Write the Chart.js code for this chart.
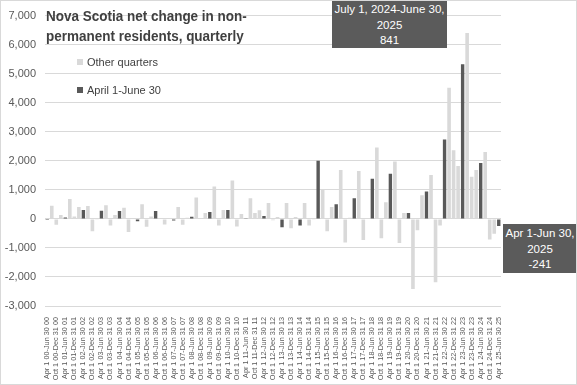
<!DOCTYPE html>
<html lang="en">

<head>
   <meta charset="UTF-8">
   <title>Nova Scotia net change in non-permanent residents, quarterly</title>
   <script src="https://cdn.jsdelivr.net/npm/chart.js@4/dist/chart.umd.min.js"></script>
   <style>
      html, body { margin: 0; padding: 0; background: #fff; }
      .wrap { position: relative; width: 577px; height: 385px; overflow: hidden; font-family: "Liberation Sans", Arial, sans-serif; }
      .frame { position: absolute; left: 0; top: 0; width: 575px; height: 383px; border: 1px solid #d9d9d9; pointer-events: none; }
      .title { position: absolute; left: 46px; top: 6px; font-weight: bold; font-size: 15.5px; line-height: 20px; color: #404040; white-space: nowrap; transform: scaleX(0.87); transform-origin: left top; }
      .legend { position: absolute; left: 77px; font-size: 11px; color: #404040; line-height: 12px; }
      .legend i { display: inline-block; width: 6px; height: 6px; margin-right: 4px; vertical-align: 1px; }
      .callout { position: absolute; background: #5b5b5b; color: #fff; font-size: 11.5px; line-height: 15.5px; text-align: center; box-sizing: border-box; padding-top: 2px; white-space: nowrap; }
   </style>
</head>

<body>
   <div class="wrap">
      <canvas id="myChart" width="577" height="385"></canvas>
      <div class="title">Nova Scotia net change in non-<br>permanent residents, quarterly</div>
      <div class="legend" style="top:56px"><i style="background:#d9d9d9"></i>Other quarters</div>
      <div class="legend" style="top:84px"><i style="background:#595959"></i>April 1-June 30</div>
      <div class="callout" style="left:332px;top:0;width:115px;height:48px">July 1, 2024-June 30,<br>2025<br>841</div>
      <div class="callout" style="left:503px;top:224px;width:74px;height:49px">Apr 1-Jun 30,<br>2025<br>-241</div>
      <div class="frame"></div>
   </div>
   <script>
      // quarter start/end names and the years covered
      const quarterStarts = ['Apr 1', 'Jul 1', 'Oct 1', 'Jan 1'];
      const quarterEnds = ['Jun 30', 'Sep 30', 'Dec 31', 'Mar 31'];
      const firstYear = 0;   // 2000
      const lastYear = 25;   // 2025, only Apr-Jun

      // net change per quarter, Apr-Jun 2000 .. Apr-Jun 2025
      const netChange = [
         -40, 450, -200, 135,
         45, 685, 80, 405,
         303, 440, -425, -30,
         280, 470, -225, 135,
         270, 380, -450, 20,
         -80, 505, -270, 80,
         270, 10, -190, 10,
         -55, 405, -200, 35,
         70, 735, 20, 200,
         240, 1115, -225, 305,
         305, 1325, -260, 170,
         5, 710, 200, 300,
         100, 550, -45, 65,
         -290, 550, -325, 65,
         -225, 550, -225, -30,
         2000, 1000, -430, 405,
         505, 1685, -810, 35,
         710, 1650, -730, -20,
         1380, 2460, -665, 575,
         1550, 1980, -830, 200,
         200, -2415, -395, 810,
         945, 1515, -2180, -225,
         2730, 4515, 2360, 1820,
         5325, 6405, 1450, 1685,
         1920, 2300, -710, -508,
         -241
      ];

      const yTicks = { min: -3000, max: 7000, step: 1000 };

      const labels = [];
      const isAprJun = [];
      for (let y = firstYear; y <= lastYear; y++) {
         for (let q = 0; q < 4; q++) {
            if (y === lastYear && q > 0) break;
            const yy = String(q === 3 ? y + 1 : y).padStart(2, '0');
            labels.push(`${quarterStarts[q]} ${yy}-${quarterEnds[q]} ${yy}`);
            isAprJun.push(q === 0);
         }
      }
      const otherQuarters = netChange.map((v, i) => isAprJun[i] ? null : v);
      const aprJun = netChange.map((v, i) => isAprJun[i] ? v : null);

      const FONT = '"Liberation Sans", Arial, sans-serif';

      const config = {
         type: 'bar',
         data: {
            labels: labels,
            datasets: [{
               label: 'Other quarters',
               data: otherQuarters,
               backgroundColor: '#d9d9d9',
               grouped: false,
               barPercentage: 0.8,
               categoryPercentage: 1
            }, {
               label: 'April 1-June 30',
               data: aprJun,
               backgroundColor: '#595959',
               grouped: false,
               barPercentage: 0.75,
               categoryPercentage: 1
            }]
         },
         options: {
            responsive: false,
            animation: false,
            layout: { padding: { left: 0, right: 76, top: 8, bottom: 4 } },
            plugins: {
               legend: { display: false },
               title: { display: false },
               tooltip: { enabled: false }
            },
            scales: {
               x: {
                  grid: { display: false },
                  border: { display: false },
                  ticks: {
                     autoSkip: false,
                     minRotation: 90,
                     maxRotation: 90,
                     padding: 3,
                     color: '#595959',
                     font: { family: FONT, size: 7.3 },
                     callback: function (val, i) { return i % 2 === 0 ? labels[i] : ''; }
                  },
                  afterFit: function (scale) { scale.height = 75; }
               },
               y: {
                  min: yTicks.min,
                  max: yTicks.max,
                  grid: { color: '#d9d9d9', drawTicks: false },
                  border: { display: false },
                  ticks: {
                     stepSize: yTicks.step,
                     padding: 9,
                     color: '#595959',
                     font: { family: FONT, size: 11 },
                     callback: v => v.toLocaleString('en-US')
                  },
                  afterFit: function (scale) { scale.width = 45; }
               }
            }
         }
      };

      const ctx = document.getElementById('myChart').getContext('2d');
      const chart = new Chart(ctx, config);
   </script>
</body>

</html>
